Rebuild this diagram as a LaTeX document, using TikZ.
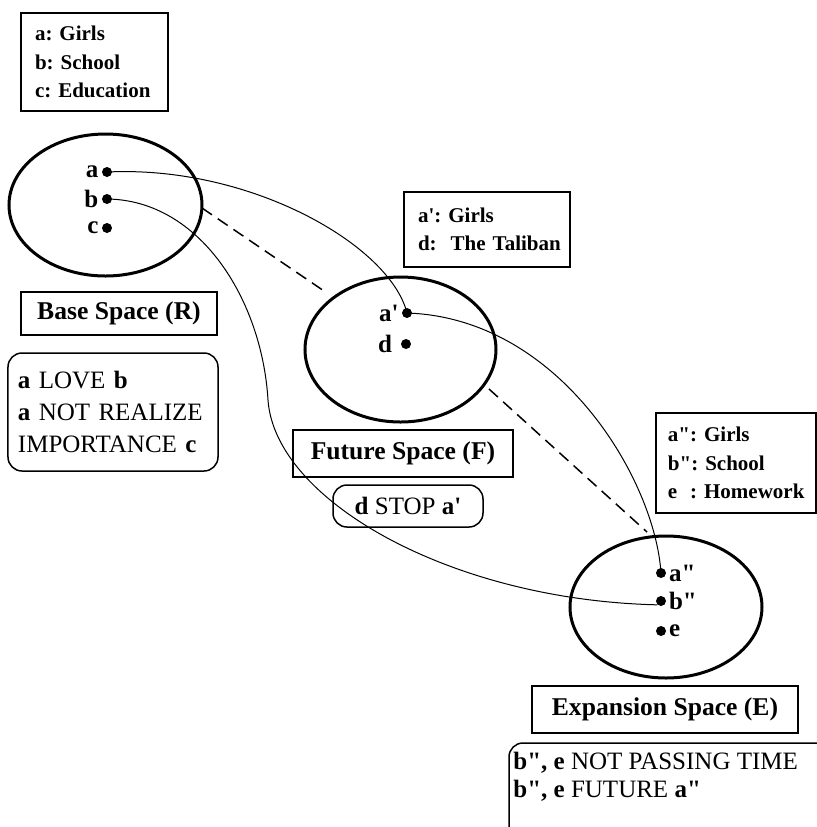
\documentclass[tikz,border=0pt]{standalone}
\usepackage{fontspec}
\setmainfont{Liberation Serif}[Ligatures=TeXOff]
\usetikzlibrary{shapes.geometric}
\begin{document}
\frenchspacing
\begin{tikzpicture}[x=0.5pt,y=-0.5pt,
  sp/.style={draw,ellipse,line width=1.5pt,inner sep=0},
  dot/.style={circle,fill,inner sep=0,minimum size=5pt},
  lbl/.style={font=\fontsize{12.5}{15}\selectfont\bfseries,inner sep=0.5pt},
  legend/.style={draw,line width=0.75pt,align=left,inner xsep=7pt,font=\fontsize{10.5}{14.25}\selectfont\bfseries\frenchspacing},
  title/.style={draw,line width=0.75pt,font=\fontsize{12.8}{15}\selectfont\bfseries,inner sep=0},
  rel/.style={draw,line width=0.75pt,rounded corners=7pt,align=left,font=\fontsize{12.5}{16}\selectfont},
  conn/.style={line width=0.5pt},
  dsh/.style={line width=0.75pt,dash pattern=on 6pt off 3.5pt}]
\clip (0,0) rectangle (817,827);

% spaces
\node[sp,minimum width=96.5pt,minimum height=71pt] (R) at (105.5,205) {};
\node[sp,minimum width=95.5pt,minimum height=72.5pt] (F) at (400.5,349.5) {};
\node[sp,minimum width=96pt,minimum height=71pt] (E) at (666,607) {};

% legends
\node[legend,text width=59.5pt,minimum height=49pt] (L1) at (94.5,62) {\mbox{a: Girls}\\\mbox{b: School}\\\mbox{c: Education}};
\node[legend,text width=69pt,minimum height=37.5pt] (L2) at (487,229.5) {\mbox{a': Girls}\\\mbox{d:\ \ The Taliban}};
\node[legend,inner xsep=6pt,text width=68pt,minimum height=50pt] (L3) at (736,463) {\mbox{a": Girls}\\\mbox{b": School}\\\mbox{\makebox[1.055em][l]{e}: Homework}};

% titles
\node[title,minimum width=98pt,minimum height=21.5pt] (TR) at (119,313.5) {Base Space (R)};
\node[title,minimum width=110pt,minimum height=23.5pt] (TF) at (403,453.5) {Future Space (F)};
\node[title,minimum width=133pt,minimum height=23.5pt] (TE) at (665,709.5) {Expansion Space (E)};

% relations
\node[rel,inner xsep=5pt,text width=95pt,minimum height=59pt] (RR) at (113,412) {\textbf{a} LOVE \textbf{b}\\\textbf{a} NOT REALIZE\\IMPORTANCE \textbf{c}};
\node[rel,inner sep=0,align=center,minimum width=75pt,minimum height=21pt] (RF) at (408,506) {\textbf{d} STOP \textbf{a'}};
\draw[line width=0.75pt,rounded corners=7pt] (509,743) rectangle (840,860);
\node[anchor=north west,align=left,inner sep=0,font=\fontsize{12.5}{14}\selectfont] (RE) at (513,752) {\textbf{b", e} NOT PASSING TIME\\\textbf{b", e} FUTURE \textbf{a"}};

% dashed links
\coordinate (d1) at (202,208);
\coordinate (d2) at (327,293);
\coordinate (d3) at (489,389);
\coordinate (d4) at (647,532);
\draw[dsh] (d1) -- (d2);
\draw[dsh] (d3) -- (d4);

% elements
\node[dot,label={[lbl,label distance=0.9pt]left:a}] (a) at (107,172) {};
\node[dot,label={[lbl,label distance=0.9pt]left:b}] (b) at (107,199) {};
\node[dot,label={[lbl,label distance=0.9pt]left:c}] (c) at (107,228) {};
\node[dot,label={[lbl,label distance=0.8pt]left:a'}] (ap) at (407,313) {};
\node[dot,label={[lbl,label distance=3.6pt]left:d}] (d) at (406,344) {};
\node[dot,label={[lbl,label distance=0.6pt]right:a"}] (app) at (661,573) {};
\node[dot,label={[lbl,label distance=0.6pt]right:b"}] (bpp) at (661,601) {};
\node[dot,label={[lbl,label distance=0.6pt]right:e}] (e) at (661,631) {};

% connectors
\coordinate (bm) at (268,400);
\draw[conn] (a.center) .. controls (250,165) and (390,245) .. (ap.center);
\draw[conn] (ap.center) .. controls (560,318) and (655,480) .. (app.center);
\draw[conn] (b.center) .. controls (200,200) and (262,300) .. (bm) .. controls (275,500) and (450,600) .. (bpp.south west);
\end{tikzpicture}
\end{document}
